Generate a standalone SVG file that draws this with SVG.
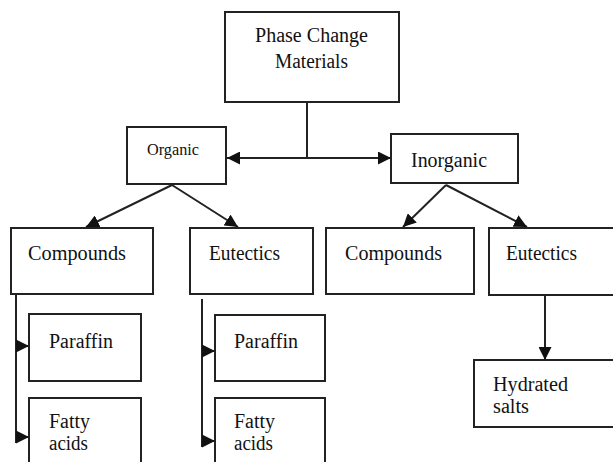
<svg xmlns="http://www.w3.org/2000/svg" width="613" height="462" viewBox="0 0 613 462">
<defs>
<style>
.box{fill:#fff;stroke:#222;stroke-width:2}
.ln{fill:none;stroke:#222;stroke-width:2}
.t{font-family:"Liberation Serif","DejaVu Serif",Tinos,"Times New Roman",serif;font-size:20px;fill:#111}
.s{font-size:17px}
</style>
<marker id="ah" viewBox="0 0 10 10" refX="10" refY="5" markerWidth="13" markerHeight="13" markerUnits="userSpaceOnUse" orient="auto">
<path d="M0,0 L10,5 L0,10 z" fill="#111"/>
</marker>
</defs>
<g id="connectors">
<path class="ln" d="M307,103 V158"/>
<path class="ln" d="M307,158 H227" marker-end="url(#ah)"/>
<path class="ln" d="M307,158 H391" marker-end="url(#ah)"/>
<path class="ln" d="M172,185 L86,227" marker-end="url(#ah)"/>
<path class="ln" d="M172,185 L238,227" marker-end="url(#ah)"/>
<path class="ln" d="M446,185 L403,227" marker-end="url(#ah)"/>
<path class="ln" d="M446,185 L527,227" marker-end="url(#ah)"/>
<path class="ln" d="M16,295 V443"/>
<path class="ln" d="M16,346 H29" marker-end="url(#ah)"/>
<path class="ln" d="M16,437 H29" marker-end="url(#ah)"/>
<path class="ln" d="M202,299 V447"/>
<path class="ln" d="M202,351 H215" marker-end="url(#ah)"/>
<path class="ln" d="M202,441 H215" marker-end="url(#ah)"/>
<path class="ln" d="M545,295 V360" marker-end="url(#ah)"/>
</g>
<g id="pcm"><rect class="box" x="225" y="12" width="174" height="90"/>
<text class="t" x="255" y="42" textLength="113" lengthAdjust="spacingAndGlyphs">Phase Change</text>
<text class="t" x="275" y="68" textLength="73" lengthAdjust="spacingAndGlyphs">Materials</text></g>
<g id="organic"><rect class="box" x="127" y="127" width="99" height="57"/>
<text class="t s" x="147" y="155" textLength="52" lengthAdjust="spacingAndGlyphs">Organic</text></g>
<g id="inorganic"><rect class="box" x="391" y="134" width="127" height="49"/>
<text class="t" x="411" y="167" textLength="76" lengthAdjust="spacingAndGlyphs">Inorganic</text></g>
<g id="org-compounds"><rect class="box" x="11" y="228" width="142" height="66"/>
<text class="t" x="28" y="260" textLength="98" lengthAdjust="spacingAndGlyphs">Compounds</text></g>
<g id="org-eutectics"><rect class="box" x="190" y="228" width="123" height="66"/>
<text class="t" x="209" y="260" textLength="71" lengthAdjust="spacingAndGlyphs">Eutectics</text></g>
<g id="inorg-compounds"><rect class="box" x="326" y="228" width="148" height="66"/>
<text class="t" x="345" y="260" textLength="97" lengthAdjust="spacingAndGlyphs">Compounds</text></g>
<g id="inorg-eutectics"><rect class="box" x="489" y="228" width="140" height="67"/>
<text class="t" x="506" y="260" textLength="71" lengthAdjust="spacingAndGlyphs">Eutectics</text></g>
<g id="paraffin1"><rect class="box" x="29" y="314" width="112" height="67"/>
<text class="t" x="49" y="348" textLength="64" lengthAdjust="spacingAndGlyphs">Paraffin</text></g>
<g id="fatty1"><rect class="box" x="29" y="398" width="112" height="80"/>
<text class="t" x="49" y="428" textLength="41" lengthAdjust="spacingAndGlyphs">Fatty</text><text class="t" x="49" y="450" textLength="39" lengthAdjust="spacingAndGlyphs">acids</text></g>
<g id="paraffin2"><rect class="box" x="215" y="315" width="110" height="66"/>
<text class="t" x="234" y="348" textLength="64" lengthAdjust="spacingAndGlyphs">Paraffin</text></g>
<g id="fatty2"><rect class="box" x="215" y="398" width="110" height="80"/>
<text class="t" x="234" y="428" textLength="41" lengthAdjust="spacingAndGlyphs">Fatty</text><text class="t" x="234" y="450" textLength="39" lengthAdjust="spacingAndGlyphs">acids</text></g>
<g id="hydrated"><rect class="box" x="474" y="360" width="150" height="67"/>
<text class="t" x="493" y="391" textLength="75" lengthAdjust="spacingAndGlyphs">Hydrated</text><text class="t" x="493" y="413" textLength="36" lengthAdjust="spacingAndGlyphs">salts</text></g>
</svg>
